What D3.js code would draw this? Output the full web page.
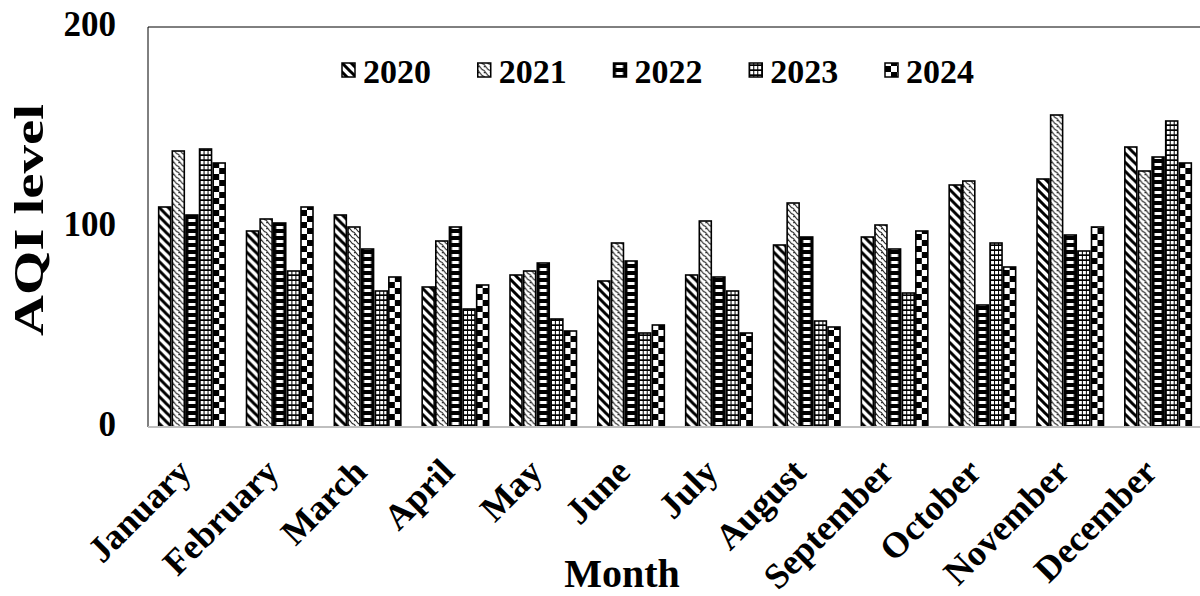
<!DOCTYPE html>
<html><head><meta charset="utf-8">
<script src="https://cdn.jsdelivr.net/npm/d3@7"></script>
<style>
html,body{margin:0;padding:0;background:#fff;}
svg text{font-family:"Liberation Serif","Times New Roman",serif;font-weight:bold;fill:#000;}
</style></head>
<body>
<svg id="chart" width="1200" height="596"></svg>
<script>
const months = ["January","February","March","April","May","June","July","August","September","October","November","December"];
const years = ["2020","2021","2022","2023","2024"];
const v2020 = [110, 98, 106, 70, 76, 73, 76, 91, 95, 121, 124, 140];
const v2021 = [138, 104, 100, 93, 78, 92, 103, 112, 101, 123, 156, 128];
const v2022 = [106, 102, 89, 100, 82, 83, 75, 95, 89, 61, 96, 135];
const v2023 = [139, 78, 68, 59, 54, 47, 68, 53, 67, 92, 88, 153];
const v2024 = [132, 110, 75, 71, 48, 51, 47, 50, 98, 80, 100, 132];
const yTicks = [0, 100, 200];
const series = [v2020, v2021, v2022, v2023, v2024];

const svg = d3.select("#chart");
const W = 1200, H = 596;
const plot = {left:148, right:1202, top:27, bottom:427};

const defs = svg.append("defs");
// 2020: thick back-diagonal stripes
const p0 = defs.append("pattern").attr("id","pat0").attr("patternUnits","userSpaceOnUse").attr("width",9).attr("height",9);
p0.append("rect").attr("width",9).attr("height",9).attr("fill","#fff");
p0.append("path").attr("d","M-2,-2 L11,11 M-2,7 L2,11 M7,-2 L11,2").attr("stroke","#000").attr("stroke-width",3);
// 2021: wave
const p1 = defs.append("pattern").attr("id","pat1").attr("patternUnits","userSpaceOnUse").attr("width",6).attr("height",6);
p1.append("rect").attr("width",6).attr("height",6).attr("fill","#fff");
p1.append("path").attr("d","M0,1 Q1.5,-0.5 3,2 T6,4").attr("fill","none").attr("stroke","#222").attr("stroke-width",1.1);
p1.append("path").attr("d","M0,4 L1.5,6").attr("fill","none").attr("stroke","#222").attr("stroke-width",1.1);
// 2022: horizontal stripes
const p2 = defs.append("pattern").attr("id","pat2").attr("patternUnits","userSpaceOnUse").attr("width",12).attr("height",7);
p2.append("rect").attr("width",12).attr("height",7).attr("fill","#000");
p2.append("rect").attr("x",2.5).attr("y",2).attr("width",7).attr("height",3).attr("fill","#fff");
// 2023: small grid
const p3 = defs.append("pattern").attr("id","pat3").attr("patternUnits","userSpaceOnUse").attr("width",4).attr("height",5);
p3.append("rect").attr("width",4).attr("height",5).attr("fill","#000");
p3.append("rect").attr("x",1).attr("y",1).attr("width",3).attr("height",3.3).attr("fill","#fff");
// 2024: checkerboard
const p4 = defs.append("pattern").attr("id","pat4").attr("patternUnits","userSpaceOnUse").attr("width",12).attr("height",12);
p4.append("rect").attr("width",12).attr("height",12).attr("fill","#fff");
p4.append("rect").attr("x",6).attr("y",0).attr("width",6).attr("height",6).attr("fill","#000");
p4.append("rect").attr("x",0).attr("y",6).attr("width",6).attr("height",6).attr("fill","#000");

const x0 = d3.scaleBand().domain(months).range([plot.left, plot.right]).paddingInner(0.243).paddingOuter(0.1215);
const x1 = d3.scaleBand().domain(years).range([0, x0.bandwidth()]).paddingInner(0.12);
const y = d3.scaleLinear().domain([0, 200]).range([plot.bottom, plot.top]);

// frame
svg.append("line").attr("x1",plot.left).attr("x2",W).attr("y1",plot.top).attr("y2",plot.top).attr("stroke","#000").attr("stroke-width",1);
svg.append("line").attr("x1",plot.left).attr("x2",plot.left).attr("y1",plot.top).attr("y2",plot.bottom).attr("stroke","#000").attr("stroke-width",1);

// bars
const groups = svg.append("g").selectAll("g").data(months).join("g")
  .attr("transform", m => `translate(${x0(m)},0)`);
groups.each(function(m, mi){
  const g = d3.select(this);
  years.forEach((yr, si) => {
    const val = series[si][mi];
    g.append("g").attr("transform", `translate(${x1(yr)},0)`)
      .append("rect")
      .attr("x", 0).attr("y", y(val))
      .attr("width", x1.bandwidth()).attr("height", y(0) - y(val))
      .attr("fill", `url(#pat${si})`)
      .attr("stroke", "#000").attr("stroke-width", 1.6);
  });
});

// bottom axis line (gray)
svg.append("line").attr("x1",plot.left).attr("x2",W).attr("y1",plot.bottom).attr("y2",plot.bottom).attr("stroke","#bfbfbf").attr("stroke-width",2);

// y tick labels
svg.append("g").selectAll("text").data(yTicks).join("text")
  .attr("x", 116).attr("y", d => y(d)).attr("dy","0.27em")
  .attr("text-anchor","end").style("font-size","35px").text(d => d);

// y axis title
svg.append("text").attr("transform","translate(43,220) rotate(-90)")
  .attr("text-anchor","middle").style("font-size","42px")
  .attr("textLength",232).attr("lengthAdjust","spacingAndGlyphs").text("AQI level");

// month labels
svg.append("g").selectAll("text").data(months).join("text")
  .attr("transform", m => `translate(${x0(m) + x0.bandwidth()/2 + 1},${plot.bottom + 47}) rotate(-45)`)
  .attr("text-anchor","end").style("font-size","36px").text(m => m);

// x title
svg.append("text").attr("x", 622).attr("y", 587).attr("text-anchor","middle").style("font-size","40px").text("Month");

// legend
const leg = svg.append("g").selectAll("g").data(years).join("g")
  .attr("transform", (d,i) => `translate(${342 + i*135.75},0)`);
leg.append("rect").attr("x",0).attr("y",63).attr("width",13).attr("height",14)
  .attr("fill",(d,i)=>`url(#pat${i})`).attr("stroke","#000").attr("stroke-width",1.5);
leg.append("text").attr("x",21).attr("y",71).attr("dy","0.35em").style("font-size","34px").text(d => d);
</script>
</body></html>
